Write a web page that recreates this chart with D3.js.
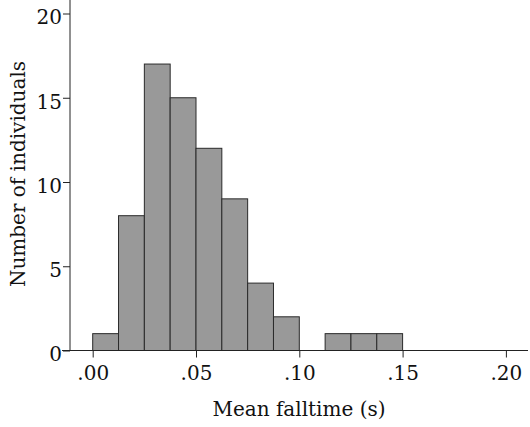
<!DOCTYPE html>
<html>
<head>
<meta charset="utf-8">
<script src="https://cdn.jsdelivr.net/npm/d3@7"></script>
<style>
  html, body { margin: 0; padding: 0; background: #fff; }
  svg text { font-family: "DejaVu Serif", "Liberation Serif", serif; fill: #111; }
</style>
</head>
<body>
<svg id="chart" width="530" height="427"></svg>
<script>
// Histogram of mean falltime, bins of 0.0125 s
const binStarts = [0, 0.0125, 0.025, 0.0375, 0.05, 0.0625, 0.075, 0.0875, 0.1, 0.1125, 0.125, 0.1375];
const binWidth = 0.0125;
const counts = [1, 8, 17, 15, 12, 9, 4, 2, 0, 1, 1, 1];
const xTicks = [0, 0.05, 0.10, 0.15, 0.20];
const xTickLabels = [".00", ".05", ".10", ".15", ".20"];
const yTicks = [0, 5, 10, 15, 20];

const svg = d3.select("#chart");
const x = d3.scaleLinear().domain([0, 0.05]).range([92.7, 196]);
const y = d3.scaleLinear().domain([0, 20]).range([350.5, 13.5]);

// bars
svg.append("g").selectAll("rect")
  .data(binStarts.map((s, i) => ({ s, c: counts[i] })).filter(d => d.c > 0))
  .join("rect")
  .attr("x", d => x(d.s))
  .attr("y", d => y(d.c))
  .attr("width", d => x(d.s + binWidth) - x(d.s))
  .attr("height", d => y(0) - y(d.c))
  .attr("fill", "#999999")
  .attr("stroke", "#2a2a2a")
  .attr("stroke-width", 1);

// y axis
const yAxis = d3.axisLeft(y).tickValues(yTicks).tickSize(7).tickPadding(1).tickFormat(d3.format("d"));
const gy = svg.append("g").attr("transform", "translate(70,0)").call(yAxis);
gy.select(".domain").remove();
gy.append("line").attr("x1", 0).attr("x2", 0).attr("y1", 0).attr("y2", y(0)).attr("stroke", "#222");
gy.selectAll(".tick line").attr("stroke", "#222");
gy.selectAll(".tick text").attr("font-size", 20).attr("dy", "0.52em")
  .style("font-family", "DejaVu Serif").attr("fill", "#111");

// x axis
const xAxis = d3.axisBottom(x).tickValues(xTicks).tickSize(7).tickPadding(8)
  .tickFormat((d, i) => xTickLabels[i]);
const gx = svg.append("g").attr("transform", `translate(0,${y(0)})`).call(xAxis);
gx.select(".domain").remove();
gx.append("line").attr("x1", 62).attr("x2", 528).attr("y1", 0).attr("y2", 0).attr("stroke", "#222");
gx.selectAll(".tick line").attr("stroke", "#222");
gx.selectAll(".tick text").attr("font-size", 20)
  .style("font-family", "DejaVu Serif").attr("fill", "#111");

// axis titles
svg.append("text")
  .attr("x", 299).attr("y", 416)
  .attr("text-anchor", "middle")
  .attr("font-size", 20)
  .text("Mean falltime (s)");

svg.append("text")
  .attr("transform", "translate(25,174) rotate(-90)")
  .attr("text-anchor", "middle")
  .attr("font-size", 20)
  .text("Number of individuals");
</script>
</body>
</html>
